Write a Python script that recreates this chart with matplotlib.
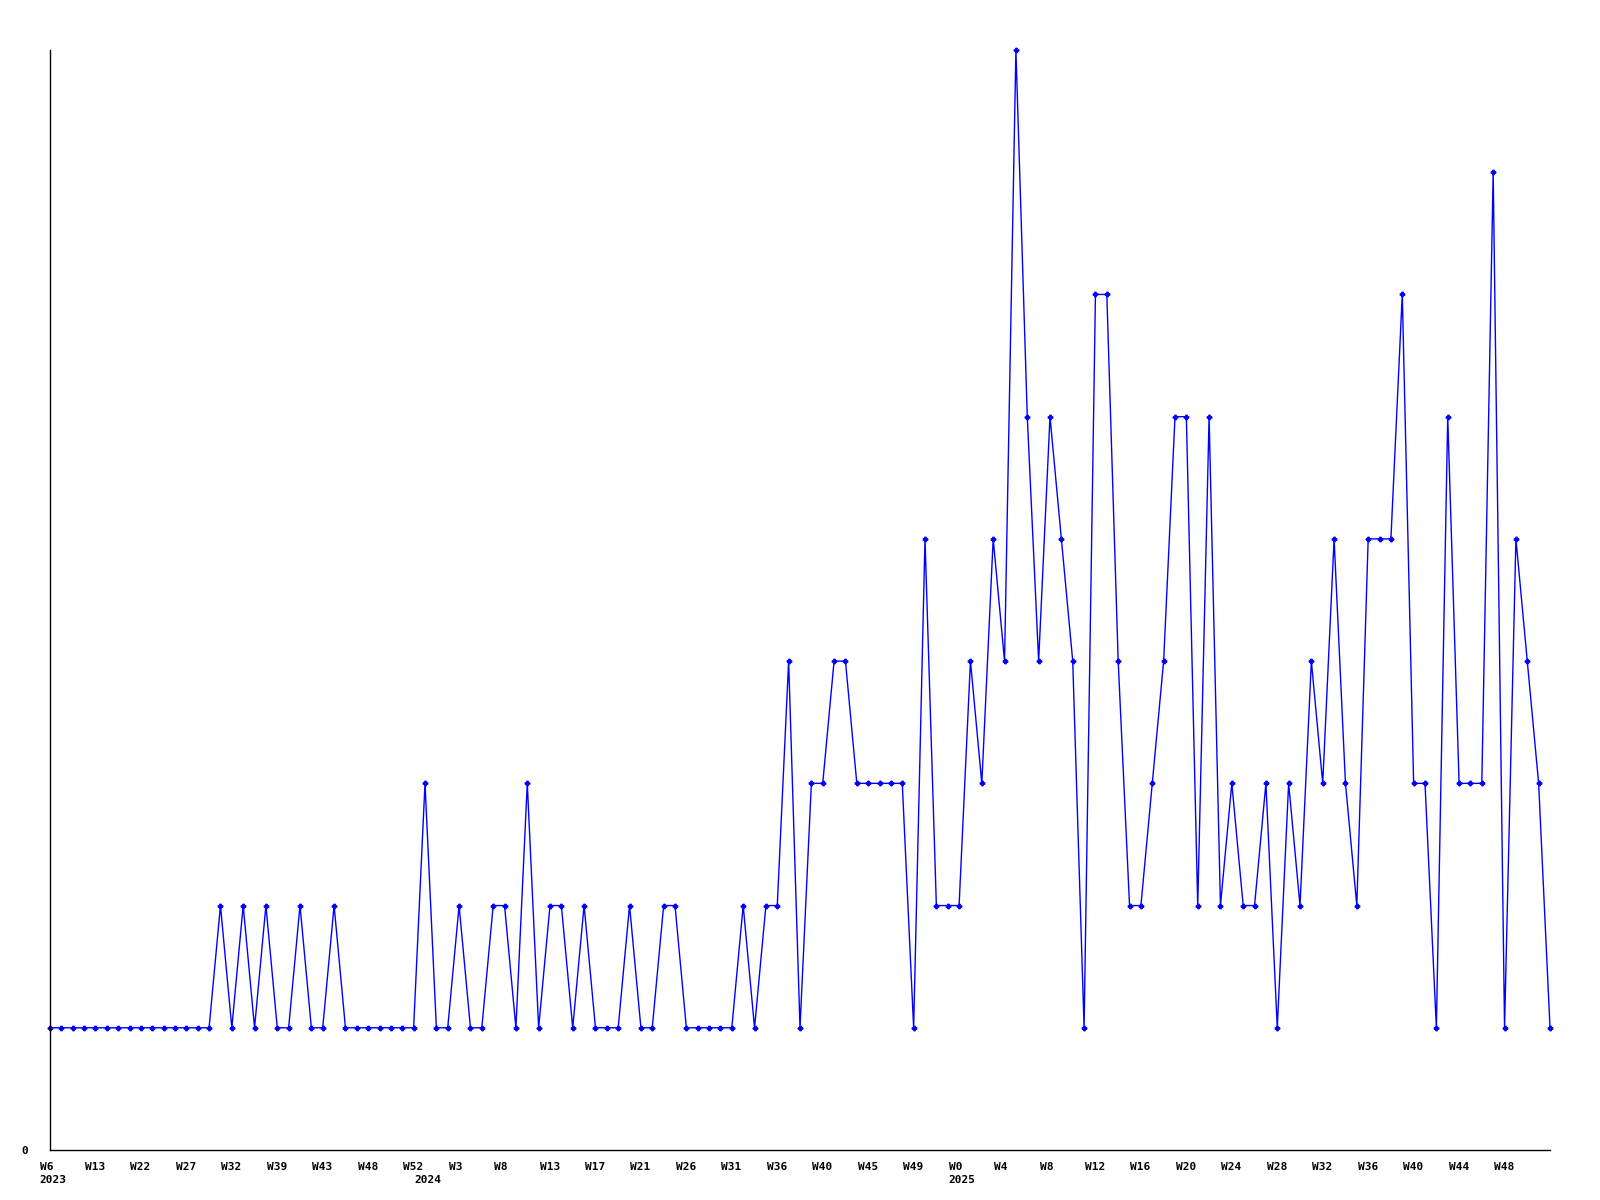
import matplotlib
matplotlib.use("Agg")
import matplotlib.pyplot as plt
import matplotlib.transforms as mtransforms
import numpy as np

# weekly counts, one point per reported week
values_2023 = [1, 1, 1, 1, 1, 1, 1, 1, 1, 1, 1, 1, 1, 1, 1,
               2, 1, 2, 1, 2, 1, 1, 2, 1, 1, 2, 1, 1, 1, 1, 1, 1, 1]
values_2024 = [3, 1, 1, 2, 1, 1, 2, 2, 1, 3, 1, 2, 2, 1, 2, 1, 1, 1, 2, 1,
               1, 2, 2, 1, 1, 1, 1, 1, 2, 1, 2, 2, 4, 1, 3, 3, 4, 4, 3, 3,
               3, 3, 3, 1, 5, 2, 2]
values_2025 = [2, 4, 3, 5, 4, 9, 6, 4, 6, 5, 4, 1,
               7, 7, 4, 2, 2, 3, 4, 6, 6, 2, 6, 2, 3, 2, 2, 3, 1, 3, 2, 4, 3,
               5, 3, 2, 5, 5, 5, 7, 3, 3, 1, 6, 3, 3, 3, 8, 1, 5, 4, 3, 1]

week_labels = ["W6", "W13", "W22", "W27", "W32", "W39", "W43", "W48", "W52",
               "W3", "W8", "W13", "W17", "W21", "W26", "W31", "W36", "W40", "W45", "W49",
               "W0", "W4", "W8", "W12", "W16", "W20", "W24", "W28", "W32", "W36", "W40", "W44", "W48"]
years = ["2023", "2024", "2025"]

values = np.array(values_2023 + values_2024 + values_2025)
x = np.arange(len(values))
year_starts = [0, len(values_2023), len(values_2023) + len(values_2024)]

font = dict(family="DejaVu Sans Mono", weight="bold", size=8)

fig = plt.figure(figsize=(16, 12), dpi=100)
ax = fig.add_axes([50 / 1600, 50 / 1200, 1500 / 1600, 1100 / 1200])

ax.plot(x, values, color="#0000ff", lw=1, marker="P", ms=3.2, clip_on=False)

ax.set_xlim(0, len(values) - 1)
ax.set_ylim(0, 9)

for side in ["top", "right"]:
    ax.spines[side].set_visible(False)
for side in ["left", "bottom"]:
    ax.spines[side].set_linewidth(1)
    ax.spines[side].set_color("black")

ax.set_yticks([0])
ax.set_yticklabels(["0"], fontdict=font)
ax.tick_params(axis="y", length=0, pad=16)

ax.set_xticks(np.arange(len(week_labels)) * 4)
ax.set_xticklabels(week_labels, fontdict=font)
ax.tick_params(axis="x", length=0, pad=9)
shift = mtransforms.ScaledTranslation(-10.5 / 100, 0, fig.dpi_scale_trans)
for lab in ax.get_xticklabels():
    lab.set_horizontalalignment("left")
    lab.set_transform(lab.get_transform() + shift)

trans = mtransforms.blended_transform_factory(ax.transData, ax.transAxes) + shift
for year, start in zip(years, year_starts):
    ax.text(start, -25 / 1100, year, transform=trans, ha="left", va="top", **font)

fig.savefig("out.png", dpi=100, facecolor="white")
